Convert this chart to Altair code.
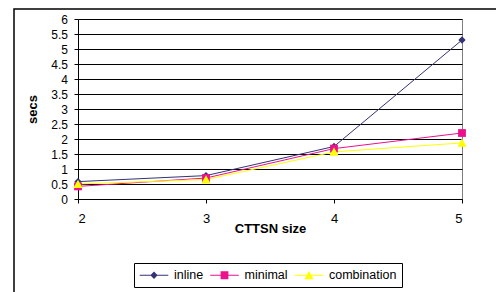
import altair as alt
import pandas as pd

# ---- data ----
cttsn_sizes = [2, 3, 4, 5]
series_names = ["inline", "minimal", "combination"]
inline_secs = [0.58, 0.78, 1.75, 5.30]
minimal_secs = [0.42, 0.70, 1.68, 2.20]
combination_secs = [0.50, 0.65, 1.57, 1.87]
y_tick_values = [0, 0.5, 1, 1.5, 2, 2.5, 3, 3.5, 4, 4.5, 5, 5.5, 6]

series_colors = ["#333375", "#EC108C", "#FFFF00"]
marker_paths = [
    "M0,-0.56L0.56,0L0,0.56L-0.56,0Z",          # diamond
    "M-0.6,-0.6H0.6V0.6H-0.6Z",                 # square
    "M0,-0.66L0.72,0.6H-0.72Z",                 # triangle
]
legend_line = "M-2.2,-0.08H2.2V0.08H-2.2Z"
legend_paths = [legend_line + p for p in marker_paths]

rows = []
for name, vals in zip(series_names, [inline_secs, minimal_secs, combination_secs]):
    for s, v in zip(cttsn_sizes, vals):
        rows.append({"size": s, "secs": v, "series": name})
df = pd.DataFrame(rows)

FONT = "Liberation Sans"

legend_props = dict(
    orient="none", legendX=56, legendY=244, direction="horizontal", title=None,
    symbolSize=169, symbolStrokeWidth=1, symbolOffset=8, labelOffset=13,
    symbolOpacity=1, strokeColor="black", labelColor="black",
    labelFontSize=12.5, labelFont=FONT, columnPadding=3.5, padding=5, labelLimit=0,
)

x_enc = alt.X(
    "size:Q",
    scale=alt.Scale(domain=[2, 5], nice=False, zero=False),
    axis=alt.Axis(
        values=cttsn_sizes, format="d", grid=False, tickSize=4, labelPadding=19.5,
        labelBaseline="alphabetic", labelFontSize=13, labelColor="black",
        domainColor="black", tickColor="black",
        title="CTTSN size", titleFontSize=13, titleFontWeight="bold", titleColor="black",
        titleY=33.5, titleBaseline="alphabetic",
    ),
)
y_enc = alt.Y(
    "secs:Q",
    scale=alt.Scale(domain=[0, 6], nice=False),
    axis=alt.Axis(
        values=y_tick_values, format="~g", grid=True, gridColor="black", gridWidth=1,
        tickSize=4, labelPadding=6.5, labelFontSize=12, labelColor="black",
        domainColor="black", tickColor="black",
        title="secs", titleFontSize=13, titleFontWeight="bold", titleColor="black",
        titleX=-41.5, titleBaseline="alphabetic",
    ),
)

base = alt.Chart(df)

frame = alt.Chart(alt.Data(values=[{}])).mark_rect(
    fillOpacity=0, stroke="black", strokeWidth=1.5
).encode(
    x=alt.value(-64), x2=alt.value(440), y=alt.value(-10), y2=alt.value(300)
)

color_scale = alt.Scale(domain=series_names, range=series_colors)

lines = base.mark_line(strokeWidth=1).encode(
    x=x_enc,
    y=y_enc,
    color=alt.Color("series:N", legend=None, scale=color_scale),
)

markers = base.mark_point(filled=True, size=169, opacity=1, strokeWidth=1).encode(
    x=x_enc,
    y=y_enc,
    color=alt.Color("series:N", legend=None, scale=color_scale),
    shape=alt.Shape("series:N", legend=None,
                    scale=alt.Scale(domain=series_names, range=marker_paths)),
)

# legend-only layer: invisible marks, legend symbols = line + marker
legend_layer = base.mark_point(filled=True, size=169, opacity=0, strokeWidth=1).encode(
    x=x_enc,
    y=y_enc,
    color=alt.Color("series:N", legend=alt.Legend(**legend_props), scale=color_scale),
    shape=alt.Shape("series:N",
                    scale=alt.Scale(domain=series_names, range=legend_paths),
                    legend=alt.Legend(**legend_props)),
)

chart = alt.layer(frame, lines, markers, legend_layer).resolve_scale(
    color="independent", shape="independent"
).properties(
    width=384, height=180,
    autosize=alt.AutoSizeParams(type="none"),
    padding={"left": 70, "top": 11, "right": 34, "bottom": 93},
).configure(font=FONT).configure_view(stroke="#808080", strokeWidth=1)

chart.save("out.html", embed_options={"renderer": "svg", "actions": False})
